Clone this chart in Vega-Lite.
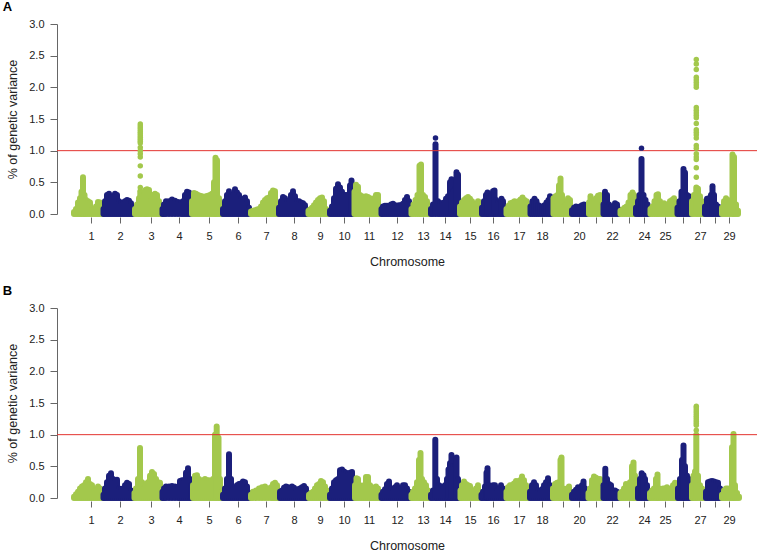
{
"$schema":"https://vega.github.io/schema/vega-lite/v6.json",
"background":"white",
"padding":{"left":2,"top":1,"right":0,"bottom":0},
"spacing":17,
"config":{"view":{"stroke":null},"font":"Liberation Sans",
"axis":{"grid":false,"labelFontSize":11,"labelColor":"#222","titleFontSize":12.5,"titleFontWeight":"normal","titleColor":"#222","tickColor":"#666","domainColor":"#666"},
"axisX":{"domain":false,"tickSize":6,"offset":3,"labelPadding":7,"labelOverlap":false,"labelFlush":false,"titlePadding":14},
"axisY":{"tickSize":7,"labelPadding":6,"titlePadding":9,"labelOverlap":false},
"title":{"fontSize":13,"fontWeight":"bold","anchor":"start","frame":"bounds","color":"#000"}},
"datasets":{
"envA":[
{"c":1,"p":73,"v":0.03},{"c":1,"p":75,"v":0.08},{"c":1,"p":77,"v":0.18},{"c":1,"p":79,"v":0.25},{"c":1,"p":80.5,"v":0.35},{"c":1,"p":82,"v":0.58},{"c":1,"p":83.5,"v":0.3},{"c":1,"p":85,"v":0.22},{"c":1,"p":87,"v":0.2},{"c":1,"p":89,"v":0.18},{"c":1,"p":91,"v":0.06},{"c":1,"p":93,"v":0.07},{"c":1,"p":95,"v":0.12},{"c":1,"p":97,"v":0.19},{"c":1,"p":99,"v":0.18},{"c":1,"p":101,"v":0.07},
{"c":2,"p":102.5,"v":0.08},{"c":2,"p":104,"v":0.2},{"c":2,"p":106,"v":0.3},{"c":2,"p":108,"v":0.32},{"c":2,"p":110,"v":0.26},{"c":2,"p":112,"v":0.28},{"c":2,"p":114,"v":0.32},{"c":2,"p":116,"v":0.3},{"c":2,"p":118,"v":0.2},{"c":2,"p":120,"v":0.17},{"c":2,"p":122,"v":0.18},{"c":2,"p":124,"v":0.2},{"c":2,"p":126,"v":0.22},{"c":2,"p":128,"v":0.21},{"c":2,"p":130,"v":0.17},{"c":2,"p":132,"v":0.1},
{"c":3,"p":134,"v":0.08},{"c":3,"p":136,"v":0.15},{"c":3,"p":138,"v":0.25},{"c":3,"p":139.3,"v":0.36},{"c":3,"p":141,"v":0.2},{"c":3,"p":143,"v":0.3},{"c":3,"p":144.5,"v":0.38},{"c":3,"p":146,"v":0.39},{"c":3,"p":148,"v":0.38},{"c":3,"p":150,"v":0.2},{"c":3,"p":152,"v":0.3},{"c":3,"p":154,"v":0.32},{"c":3,"p":156,"v":0.3},{"c":3,"p":158,"v":0.2},{"c":3,"p":160,"v":0.1},
{"c":4,"p":161.5,"v":0.08},{"c":4,"p":163,"v":0.15},{"c":4,"p":165,"v":0.2},{"c":4,"p":168,"v":0.2},{"c":4,"p":171,"v":0.23},{"c":4,"p":174,"v":0.21},{"c":4,"p":177,"v":0.19},{"c":4,"p":180,"v":0.18},{"c":4,"p":182,"v":0.2},{"c":4,"p":184,"v":0.3},{"c":4,"p":186,"v":0.35},{"c":4,"p":188,"v":0.34},{"c":4,"p":189.5,"v":0.1},
{"c":5,"p":191,"v":0.2},{"c":5,"p":193,"v":0.33},{"c":5,"p":195,"v":0.32},{"c":5,"p":197,"v":0.3},{"c":5,"p":199,"v":0.29},{"c":5,"p":201,"v":0.28},{"c":5,"p":203,"v":0.27},{"c":5,"p":205,"v":0.28},{"c":5,"p":207,"v":0.29},{"c":5,"p":209,"v":0.3},{"c":5,"p":211,"v":0.32},{"c":5,"p":213,"v":0.5},{"c":5,"p":214.5,"v":0.89},{"c":5,"p":216,"v":0.85},{"c":5,"p":218,"v":0.25},{"c":5,"p":220,"v":0.1},
{"c":6,"p":222,"v":0.08},{"c":6,"p":224,"v":0.2},{"c":6,"p":226,"v":0.3},{"c":6,"p":228,"v":0.36},{"c":6,"p":230,"v":0.28},{"c":6,"p":232,"v":0.3},{"c":6,"p":234,"v":0.39},{"c":6,"p":236,"v":0.34},{"c":6,"p":238,"v":0.3},{"c":6,"p":240,"v":0.24},{"c":6,"p":242,"v":0.22},{"c":6,"p":244,"v":0.26},{"c":6,"p":246,"v":0.2},{"c":6,"p":248,"v":0.1},
{"c":7,"p":250,"v":0.04},{"c":7,"p":252,"v":0.05},{"c":7,"p":254,"v":0.06},{"c":7,"p":256,"v":0.07},{"c":7,"p":258,"v":0.08},{"c":7,"p":260,"v":0.12},{"c":7,"p":262,"v":0.18},{"c":7,"p":264,"v":0.22},{"c":7,"p":266,"v":0.25},{"c":7,"p":268,"v":0.26},{"c":7,"p":270,"v":0.33},{"c":7,"p":272,"v":0.37},{"c":7,"p":274,"v":0.36},{"c":7,"p":276,"v":0.1},
{"c":8,"p":278,"v":0.1},{"c":8,"p":280,"v":0.2},{"c":8,"p":282,"v":0.27},{"c":8,"p":284,"v":0.25},{"c":8,"p":286,"v":0.2},{"c":8,"p":288,"v":0.2},{"c":8,"p":290,"v":0.3},{"c":8,"p":292,"v":0.36},{"c":8,"p":294,"v":0.28},{"c":8,"p":296,"v":0.2},{"c":8,"p":298,"v":0.2},{"c":8,"p":300,"v":0.18},{"c":8,"p":302,"v":0.17},{"c":8,"p":304,"v":0.14},{"c":8,"p":306,"v":0.06},
{"c":9,"p":307.5,"v":0.05},{"c":9,"p":309,"v":0.07},{"c":9,"p":311,"v":0.1},{"c":9,"p":313,"v":0.14},{"c":9,"p":315,"v":0.18},{"c":9,"p":317,"v":0.22},{"c":9,"p":319,"v":0.25},{"c":9,"p":321,"v":0.26},{"c":9,"p":323,"v":0.2},{"c":9,"p":325,"v":0.08},{"c":9,"p":327,"v":0.05},
{"c":10,"p":329,"v":0.05},{"c":10,"p":331,"v":0.12},{"c":10,"p":333,"v":0.25},{"c":10,"p":335,"v":0.4},{"c":10,"p":337,"v":0.47},{"c":10,"p":339,"v":0.42},{"c":10,"p":341,"v":0.35},{"c":10,"p":343,"v":0.3},{"c":10,"p":345,"v":0.3},{"c":10,"p":347,"v":0.3},{"c":10,"p":349,"v":0.45},{"c":10,"p":350.5,"v":0.53},{"c":10,"p":352,"v":0.3},
{"c":11,"p":353.5,"v":0.35},{"c":11,"p":355,"v":0.46},{"c":11,"p":357,"v":0.43},{"c":11,"p":359,"v":0.3},{"c":11,"p":361,"v":0.28},{"c":11,"p":363,"v":0.27},{"c":11,"p":365,"v":0.28},{"c":11,"p":367,"v":0.27},{"c":11,"p":369,"v":0.25},{"c":11,"p":371,"v":0.22},{"c":11,"p":373,"v":0.25},{"c":11,"p":375,"v":0.3},{"c":11,"p":377,"v":0.3},{"c":11,"p":379,"v":0.08},
{"c":12,"p":380.5,"v":0.08},{"c":12,"p":382,"v":0.12},{"c":12,"p":384,"v":0.13},{"c":12,"p":386,"v":0.13},{"c":12,"p":388,"v":0.12},{"c":12,"p":390,"v":0.15},{"c":12,"p":392,"v":0.16},{"c":12,"p":394,"v":0.14},{"c":12,"p":396,"v":0.13},{"c":12,"p":398,"v":0.14},{"c":12,"p":400,"v":0.14},{"c":12,"p":402,"v":0.16},{"c":12,"p":404,"v":0.22},{"c":12,"p":406,"v":0.27},{"c":12,"p":408,"v":0.2},{"c":12,"p":409.5,"v":0.08},
{"c":13,"p":410.5,"v":0.08},{"c":13,"p":412.5,"v":0.15},{"c":13,"p":414.5,"v":0.22},{"c":13,"p":416.5,"v":0.3},{"c":13,"p":418.5,"v":0.76},{"c":13,"p":420,"v":0.78},{"c":13,"p":422,"v":0.3},{"c":13,"p":424,"v":0.27},{"c":13,"p":426,"v":0.2},{"c":13,"p":428,"v":0.1},
{"c":14,"p":430,"v":0.08},{"c":14,"p":432,"v":0.15},{"c":14,"p":434.5,"v":1.1},{"c":14,"p":437,"v":0.2},{"c":14,"p":439,"v":0.17},{"c":14,"p":441,"v":0.17},{"c":14,"p":443,"v":0.18},{"c":14,"p":445,"v":0.24},{"c":14,"p":447,"v":0.28},{"c":14,"p":449,"v":0.5},{"c":14,"p":450.5,"v":0.55},{"c":14,"p":452,"v":0.35},{"c":14,"p":454,"v":0.4},{"c":14,"p":455.5,"v":0.66},{"c":14,"p":457,"v":0.62},
{"c":15,"p":459,"v":0.12},{"c":15,"p":461,"v":0.18},{"c":15,"p":463,"v":0.22},{"c":15,"p":465,"v":0.25},{"c":15,"p":467,"v":0.27},{"c":15,"p":469,"v":0.24},{"c":15,"p":471,"v":0.2},{"c":15,"p":473,"v":0.16},{"c":15,"p":475,"v":0.15},{"c":15,"p":477,"v":0.2},{"c":15,"p":479,"v":0.18},
{"c":16,"p":481,"v":0.1},{"c":16,"p":483,"v":0.2},{"c":16,"p":485,"v":0.3},{"c":16,"p":486.5,"v":0.34},{"c":16,"p":488,"v":0.25},{"c":16,"p":490,"v":0.28},{"c":16,"p":492,"v":0.36},{"c":16,"p":493.5,"v":0.37},{"c":16,"p":495,"v":0.22},{"c":16,"p":497,"v":0.18},{"c":16,"p":499,"v":0.2},{"c":16,"p":500.5,"v":0.24},{"c":16,"p":502,"v":0.2},{"c":16,"p":504,"v":0.08},
{"c":17,"p":505.5,"v":0.08},{"c":17,"p":507.5,"v":0.13},{"c":17,"p":509.5,"v":0.17},{"c":17,"p":511.5,"v":0.18},{"c":17,"p":513.5,"v":0.2},{"c":17,"p":515.5,"v":0.18},{"c":17,"p":517.5,"v":0.2},{"c":17,"p":519.5,"v":0.23},{"c":17,"p":521.5,"v":0.26},{"c":17,"p":523.5,"v":0.22},{"c":17,"p":525.5,"v":0.2},{"c":17,"p":527.5,"v":0.14},
{"c":18,"p":529.5,"v":0.12},{"c":18,"p":531.5,"v":0.2},{"c":18,"p":533.5,"v":0.24},{"c":18,"p":535.5,"v":0.2},{"c":18,"p":537.5,"v":0.14},{"c":18,"p":539.5,"v":0.12},{"c":18,"p":541.5,"v":0.12},{"c":18,"p":543.5,"v":0.14},{"c":18,"p":545.5,"v":0.18},{"c":18,"p":547.5,"v":0.22},{"c":18,"p":549,"v":0.28},{"c":18,"p":551,"v":0.15},
{"c":19,"p":552.5,"v":0.25},{"c":19,"p":554.5,"v":0.28},{"c":19,"p":556.5,"v":0.3},{"c":19,"p":558,"v":0.45},{"c":19,"p":559.5,"v":0.56},{"c":19,"p":561,"v":0.3},{"c":19,"p":563,"v":0.12},{"c":19,"p":565,"v":0.15},{"c":19,"p":567,"v":0.25},{"c":19,"p":569,"v":0.22},
{"c":20,"p":571,"v":0.06},{"c":20,"p":573,"v":0.1},{"c":20,"p":575,"v":0.12},{"c":20,"p":577,"v":0.1},{"c":20,"p":579,"v":0.12},{"c":20,"p":581,"v":0.14},{"c":20,"p":583,"v":0.15},{"c":20,"p":585,"v":0.12},{"c":20,"p":586.5,"v":0.05},
{"c":21,"p":588,"v":0.18},{"c":21,"p":589.5,"v":0.28},{"c":21,"p":591,"v":0.22},{"c":21,"p":593,"v":0.2},{"c":21,"p":595,"v":0.25},{"c":21,"p":597,"v":0.29},{"c":21,"p":599,"v":0.3},{"c":21,"p":601,"v":0.15},
{"c":22,"p":602.5,"v":0.15},{"c":22,"p":604,"v":0.35},{"c":22,"p":606,"v":0.3},{"c":22,"p":608,"v":0.15},{"c":22,"p":610,"v":0.12},{"c":22,"p":612,"v":0.12},{"c":22,"p":614,"v":0.17},{"c":22,"p":616,"v":0.15},{"c":22,"p":618,"v":0.07},
{"c":23,"p":619.5,"v":0.05},{"c":23,"p":621.5,"v":0.07},{"c":23,"p":623.5,"v":0.1},{"c":23,"p":625.5,"v":0.12},{"c":23,"p":627.5,"v":0.18},{"c":23,"p":629.5,"v":0.3},{"c":23,"p":631.5,"v":0.34},{"c":23,"p":633,"v":0.3},
{"c":24,"p":635,"v":0.1},{"c":24,"p":637,"v":0.2},{"c":24,"p":638.5,"v":0.3},{"c":24,"p":640.5,"v":0.87},{"c":24,"p":642.5,"v":0.3},{"c":24,"p":644.5,"v":0.22},{"c":24,"p":646.5,"v":0.15},{"c":24,"p":648,"v":0.08},
{"c":25,"p":649.5,"v":0.08},{"c":25,"p":651.5,"v":0.12},{"c":25,"p":653.5,"v":0.2},{"c":25,"p":655.5,"v":0.3},{"c":25,"p":657,"v":0.31},{"c":25,"p":659,"v":0.2},{"c":25,"p":661,"v":0.15},{"c":25,"p":663,"v":0.17},{"c":25,"p":665,"v":0.15},{"c":25,"p":667,"v":0.15},{"c":25,"p":669,"v":0.2},{"c":25,"p":671,"v":0.22},{"c":25,"p":673,"v":0.25},{"c":25,"p":675,"v":0.12},
{"c":26,"p":676.5,"v":0.1},{"c":26,"p":678.5,"v":0.2},{"c":26,"p":680.5,"v":0.35},{"c":26,"p":682.5,"v":0.71},{"c":26,"p":684,"v":0.65},{"c":26,"p":686,"v":0.3},{"c":26,"p":688,"v":0.28},{"c":26,"p":690,"v":0.15},
{"c":27,"p":691,"v":0.2},{"c":27,"p":693,"v":0.3},{"c":27,"p":695.3,"v":0.42},{"c":27,"p":697,"v":0.4},{"c":27,"p":699,"v":0.28},{"c":27,"p":701,"v":0.2},{"c":27,"p":702.5,"v":0.15},
{"c":28,"p":704,"v":0.12},{"c":28,"p":706,"v":0.24},{"c":28,"p":708,"v":0.25},{"c":28,"p":710,"v":0.3},{"c":28,"p":711.5,"v":0.44},{"c":28,"p":713,"v":0.3},{"c":28,"p":715,"v":0.15},{"c":28,"p":717,"v":0.12},{"c":28,"p":719,"v":0.1},
{"c":29,"p":721,"v":0.1},{"c":29,"p":723,"v":0.2},{"c":29,"p":725,"v":0.25},{"c":29,"p":727,"v":0.22},{"c":29,"p":729,"v":0.2},{"c":29,"p":731.5,"v":0.94},{"c":29,"p":733,"v":0.9},{"c":29,"p":735,"v":0.15},{"c":29,"p":737,"v":0.05}
],
"peakA":[
{"c":3,"p":139.3,"v":1.42},{"c":3,"p":139.3,"v":1.39},{"c":3,"p":139.3,"v":1.36},{"c":3,"p":139.3,"v":1.33},{"c":3,"p":139.3,"v":1.3},{"c":3,"p":139.3,"v":1.27},{"c":3,"p":139.3,"v":1.24},{"c":3,"p":139.3,"v":1.21},{"c":3,"p":139.3,"v":1.18},{"c":3,"p":139.3,"v":1.15},{"c":3,"p":139.3,"v":1.12},{"c":3,"p":139.3,"v":1.05},{"c":3,"p":139.3,"v":1.0},{"c":3,"p":139.3,"v":0.95},{"c":3,"p":139.3,"v":0.9},{"c":3,"p":139.3,"v":0.76},{"c":3,"p":139.3,"v":0.6},{"c":3,"p":139.3,"v":0.42},
{"c":14,"p":434.5,"v":1.2},
{"c":24,"p":640.5,"v":1.04},
{"c":27,"p":695.3,"v":2.44},{"c":27,"p":695.3,"v":2.37},{"c":27,"p":695.3,"v":2.28},{"c":27,"p":695.3,"v":2.16},{"c":27,"p":695.3,"v":2.12},{"c":27,"p":695.3,"v":2.08},{"c":27,"p":695.3,"v":2.04},{"c":27,"p":695.3,"v":2.0},{"c":27,"p":695.3,"v":1.68},{"c":27,"p":695.3,"v":1.64},{"c":27,"p":695.3,"v":1.6},{"c":27,"p":695.3,"v":1.56},{"c":27,"p":695.3,"v":1.52},{"c":27,"p":695.3,"v":1.43},{"c":27,"p":695.3,"v":1.33},{"c":27,"p":695.3,"v":1.29},{"c":27,"p":695.3,"v":1.25},{"c":27,"p":695.3,"v":1.2},{"c":27,"p":695.3,"v":1.08},{"c":27,"p":695.3,"v":1.04},{"c":27,"p":695.3,"v":0.95},{"c":27,"p":695.3,"v":0.9},{"c":27,"p":695.3,"v":0.86},{"c":27,"p":695.3,"v":0.73},{"c":27,"p":695.3,"v":0.58}
],
"envB":[
{"c":1,"p":73,"v":0.02},{"c":1,"p":75,"v":0.06},{"c":1,"p":77,"v":0.1},{"c":1,"p":79,"v":0.15},{"c":1,"p":81,"v":0.18},{"c":1,"p":83,"v":0.2},{"c":1,"p":85,"v":0.25},{"c":1,"p":87,"v":0.3},{"c":1,"p":89,"v":0.22},{"c":1,"p":91,"v":0.2},{"c":1,"p":93,"v":0.1},{"c":1,"p":95,"v":0.12},{"c":1,"p":97,"v":0.18},{"c":1,"p":99,"v":0.15},{"c":1,"p":101,"v":0.05},
{"c":2,"p":102.5,"v":0.05},{"c":2,"p":104,"v":0.15},{"c":2,"p":106,"v":0.25},{"c":2,"p":108,"v":0.35},{"c":2,"p":110,"v":0.39},{"c":2,"p":112,"v":0.3},{"c":2,"p":114,"v":0.28},{"c":2,"p":116,"v":0.29},{"c":2,"p":118,"v":0.15},{"c":2,"p":120,"v":0.14},{"c":2,"p":122,"v":0.15},{"c":2,"p":124,"v":0.2},{"c":2,"p":126,"v":0.24},{"c":2,"p":128,"v":0.22},{"c":2,"p":130,"v":0.12},{"c":2,"p":132,"v":0.08},
{"c":3,"p":133.5,"v":0.08},{"c":3,"p":135,"v":0.15},{"c":3,"p":137,"v":0.3},{"c":3,"p":139,"v":0.79},{"c":3,"p":141,"v":0.25},{"c":3,"p":143,"v":0.15},{"c":3,"p":145,"v":0.22},{"c":3,"p":147,"v":0.25},{"c":3,"p":149,"v":0.35},{"c":3,"p":151,"v":0.41},{"c":3,"p":153,"v":0.38},{"c":3,"p":155,"v":0.3},{"c":3,"p":157,"v":0.25},{"c":3,"p":159,"v":0.24},{"c":3,"p":160.5,"v":0.12},
{"c":4,"p":161.5,"v":0.1},{"c":4,"p":163,"v":0.15},{"c":4,"p":165,"v":0.18},{"c":4,"p":168,"v":0.18},{"c":4,"p":171,"v":0.19},{"c":4,"p":174,"v":0.18},{"c":4,"p":177,"v":0.17},{"c":4,"p":179,"v":0.27},{"c":4,"p":181,"v":0.28},{"c":4,"p":183,"v":0.28},{"c":4,"p":185,"v":0.4},{"c":4,"p":187,"v":0.47},{"c":4,"p":189,"v":0.3},{"c":4,"p":190.5,"v":0.2},
{"c":5,"p":192,"v":0.2},{"c":5,"p":194,"v":0.35},{"c":5,"p":196,"v":0.36},{"c":5,"p":198,"v":0.3},{"c":5,"p":200,"v":0.25},{"c":5,"p":202,"v":0.28},{"c":5,"p":204,"v":0.3},{"c":5,"p":206,"v":0.28},{"c":5,"p":208,"v":0.28},{"c":5,"p":210,"v":0.27},{"c":5,"p":212,"v":0.3},{"c":5,"p":214,"v":1.0},{"c":5,"p":215.7,"v":1.13},{"c":5,"p":217.5,"v":0.95},{"c":5,"p":219,"v":0.3},{"c":5,"p":220.5,"v":0.1},
{"c":6,"p":222,"v":0.05},{"c":6,"p":224,"v":0.15},{"c":6,"p":226,"v":0.3},{"c":6,"p":228,"v":0.69},{"c":6,"p":230,"v":0.3},{"c":6,"p":232,"v":0.15},{"c":6,"p":234,"v":0.17},{"c":6,"p":236,"v":0.2},{"c":6,"p":238,"v":0.22},{"c":6,"p":240,"v":0.23},{"c":6,"p":242,"v":0.26},{"c":6,"p":244,"v":0.25},{"c":6,"p":246,"v":0.18},{"c":6,"p":248,"v":0.08},
{"c":7,"p":250,"v":0.05},{"c":7,"p":252,"v":0.1},{"c":7,"p":255,"v":0.12},{"c":7,"p":258,"v":0.15},{"c":7,"p":261,"v":0.17},{"c":7,"p":264,"v":0.18},{"c":7,"p":267,"v":0.15},{"c":7,"p":270,"v":0.17},{"c":7,"p":272,"v":0.22},{"c":7,"p":274,"v":0.24},{"c":7,"p":276,"v":0.2},{"c":7,"p":277.5,"v":0.1},
{"c":8,"p":279,"v":0.1},{"c":8,"p":281,"v":0.12},{"c":8,"p":283,"v":0.16},{"c":8,"p":285,"v":0.18},{"c":8,"p":287,"v":0.17},{"c":8,"p":289,"v":0.15},{"c":8,"p":291,"v":0.18},{"c":8,"p":293,"v":0.16},{"c":8,"p":295,"v":0.12},{"c":8,"p":297,"v":0.14},{"c":8,"p":299,"v":0.15},{"c":8,"p":301,"v":0.17},{"c":8,"p":303,"v":0.19},{"c":8,"p":305,"v":0.15},{"c":8,"p":306.5,"v":0.08},
{"c":9,"p":308,"v":0.05},{"c":9,"p":310,"v":0.08},{"c":9,"p":312,"v":0.1},{"c":9,"p":314,"v":0.15},{"c":9,"p":316,"v":0.2},{"c":9,"p":318,"v":0.22},{"c":9,"p":320,"v":0.27},{"c":9,"p":322,"v":0.25},{"c":9,"p":324,"v":0.18},{"c":9,"p":326,"v":0.12},{"c":9,"p":327.5,"v":0.06},
{"c":10,"p":329,"v":0.05},{"c":10,"p":331,"v":0.15},{"c":10,"p":333,"v":0.25},{"c":10,"p":335,"v":0.28},{"c":10,"p":337,"v":0.3},{"c":10,"p":339,"v":0.44},{"c":10,"p":341,"v":0.45},{"c":10,"p":343,"v":0.42},{"c":10,"p":345,"v":0.4},{"c":10,"p":347,"v":0.38},{"c":10,"p":349,"v":0.4},{"c":10,"p":351,"v":0.41},{"c":10,"p":353,"v":0.3},
{"c":11,"p":354,"v":0.2},{"c":11,"p":355.5,"v":0.31},{"c":11,"p":357,"v":0.3},{"c":11,"p":359,"v":0.2},{"c":11,"p":361,"v":0.18},{"c":11,"p":363,"v":0.2},{"c":11,"p":365,"v":0.33},{"c":11,"p":367,"v":0.33},{"c":11,"p":369,"v":0.2},{"c":11,"p":371,"v":0.17},{"c":11,"p":373,"v":0.15},{"c":11,"p":375,"v":0.18},{"c":11,"p":377,"v":0.15},{"c":11,"p":379,"v":0.08},
{"c":12,"p":380.5,"v":0.05},{"c":12,"p":382,"v":0.1},{"c":12,"p":384,"v":0.14},{"c":12,"p":386,"v":0.22},{"c":12,"p":388,"v":0.26},{"c":12,"p":390,"v":0.15},{"c":12,"p":392,"v":0.12},{"c":12,"p":394,"v":0.17},{"c":12,"p":396,"v":0.2},{"c":12,"p":398,"v":0.15},{"c":12,"p":400,"v":0.15},{"c":12,"p":402,"v":0.2},{"c":12,"p":404,"v":0.2},{"c":12,"p":406,"v":0.15},{"c":12,"p":408,"v":0.1},{"c":12,"p":409.5,"v":0.05},
{"c":13,"p":410.5,"v":0.05},{"c":13,"p":412,"v":0.1},{"c":13,"p":414,"v":0.15},{"c":13,"p":416,"v":0.25},{"c":13,"p":418,"v":0.6},{"c":13,"p":419.5,"v":0.71},{"c":13,"p":421,"v":0.3},{"c":13,"p":423,"v":0.25},{"c":13,"p":425,"v":0.2},{"c":13,"p":427,"v":0.12},{"c":13,"p":428.5,"v":0.06},
{"c":14,"p":430,"v":0.05},{"c":14,"p":432,"v":0.12},{"c":14,"p":434.3,"v":0.92},{"c":14,"p":436,"v":0.3},{"c":14,"p":438,"v":0.2},{"c":14,"p":440,"v":0.18},{"c":14,"p":442,"v":0.15},{"c":14,"p":444,"v":0.2},{"c":14,"p":446,"v":0.3},{"c":14,"p":447.5,"v":0.45},{"c":14,"p":449,"v":0.55},{"c":14,"p":450.5,"v":0.68},{"c":14,"p":452,"v":0.5},{"c":14,"p":454,"v":0.5},{"c":14,"p":455.5,"v":0.64},{"c":14,"p":457,"v":0.3},{"c":14,"p":458.5,"v":0.1},
{"c":15,"p":459.5,"v":0.12},{"c":15,"p":461,"v":0.2},{"c":15,"p":463,"v":0.26},{"c":15,"p":465,"v":0.22},{"c":15,"p":467,"v":0.2},{"c":15,"p":469,"v":0.19},{"c":15,"p":471,"v":0.12},{"c":15,"p":473,"v":0.1},{"c":15,"p":475,"v":0.15},{"c":15,"p":477,"v":0.2},{"c":15,"p":479,"v":0.1},
{"c":16,"p":480.5,"v":0.05},{"c":16,"p":482,"v":0.1},{"c":16,"p":484,"v":0.18},{"c":16,"p":485.5,"v":0.4},{"c":16,"p":486.5,"v":0.47},{"c":16,"p":488,"v":0.2},{"c":16,"p":490,"v":0.15},{"c":16,"p":492,"v":0.2},{"c":16,"p":494,"v":0.2},{"c":16,"p":496,"v":0.12},{"c":16,"p":498,"v":0.15},{"c":16,"p":500,"v":0.2},{"c":16,"p":502,"v":0.15},{"c":16,"p":504,"v":0.05},
{"c":17,"p":505.5,"v":0.1},{"c":17,"p":507,"v":0.17},{"c":17,"p":509,"v":0.2},{"c":17,"p":511,"v":0.2},{"c":17,"p":513,"v":0.23},{"c":17,"p":515,"v":0.27},{"c":17,"p":517,"v":0.26},{"c":17,"p":519,"v":0.28},{"c":17,"p":521,"v":0.34},{"c":17,"p":523,"v":0.28},{"c":17,"p":525,"v":0.2},{"c":17,"p":527,"v":0.12},
{"c":18,"p":529,"v":0.1},{"c":18,"p":531,"v":0.2},{"c":18,"p":533,"v":0.25},{"c":18,"p":535,"v":0.2},{"c":18,"p":537,"v":0.12},{"c":18,"p":539,"v":0.1},{"c":18,"p":541,"v":0.14},{"c":18,"p":543,"v":0.2},{"c":18,"p":545,"v":0.25},{"c":18,"p":547,"v":0.31},{"c":18,"p":549,"v":0.2},{"c":18,"p":551,"v":0.1},
{"c":19,"p":552,"v":0.15},{"c":19,"p":554,"v":0.22},{"c":19,"p":556,"v":0.24},{"c":19,"p":558,"v":0.25},{"c":19,"p":559.5,"v":0.6},{"c":19,"p":560.5,"v":0.64},{"c":19,"p":562,"v":0.15},{"c":19,"p":564,"v":0.1},{"c":19,"p":566,"v":0.15},{"c":19,"p":568,"v":0.18},{"c":19,"p":569.5,"v":0.08},
{"c":20,"p":571,"v":0.05},{"c":20,"p":573,"v":0.1},{"c":20,"p":575,"v":0.13},{"c":20,"p":577,"v":0.17},{"c":20,"p":579,"v":0.16},{"c":20,"p":581,"v":0.2},{"c":20,"p":582.5,"v":0.26},{"c":20,"p":584,"v":0.15},{"c":20,"p":586,"v":0.05},
{"c":21,"p":587.5,"v":0.08},{"c":21,"p":589,"v":0.15},{"c":21,"p":591,"v":0.28},{"c":21,"p":593,"v":0.34},{"c":21,"p":595,"v":0.32},{"c":21,"p":597,"v":0.3},{"c":21,"p":599,"v":0.3},{"c":21,"p":601,"v":0.1},
{"c":22,"p":602.5,"v":0.2},{"c":22,"p":604.3,"v":0.46},{"c":22,"p":606,"v":0.3},{"c":22,"p":608,"v":0.22},{"c":22,"p":610,"v":0.2},{"c":22,"p":612,"v":0.12},{"c":22,"p":614,"v":0.12},{"c":22,"p":616,"v":0.1},{"c":22,"p":618,"v":0.05},
{"c":23,"p":619.5,"v":0.08},{"c":23,"p":621,"v":0.1},{"c":23,"p":623,"v":0.15},{"c":23,"p":625,"v":0.22},{"c":23,"p":627,"v":0.18},{"c":23,"p":629,"v":0.25},{"c":23,"p":631,"v":0.5},{"c":23,"p":632.5,"v":0.56},{"c":23,"p":634,"v":0.35},{"c":23,"p":635.5,"v":0.2},
{"c":24,"p":637,"v":0.15},{"c":24,"p":639,"v":0.3},{"c":24,"p":640.7,"v":0.39},{"c":24,"p":642.5,"v":0.36},{"c":24,"p":644,"v":0.3},{"c":24,"p":646,"v":0.2},{"c":24,"p":647.5,"v":0.05},
{"c":25,"p":649,"v":0.08},{"c":25,"p":651,"v":0.12},{"c":25,"p":653,"v":0.15},{"c":25,"p":655,"v":0.3},{"c":25,"p":656.5,"v":0.37},{"c":25,"p":658,"v":0.15},{"c":25,"p":660,"v":0.14},{"c":25,"p":662,"v":0.15},{"c":25,"p":664,"v":0.15},{"c":25,"p":666,"v":0.17},{"c":25,"p":668,"v":0.14},{"c":25,"p":670,"v":0.15},{"c":25,"p":672,"v":0.2},{"c":25,"p":674,"v":0.24},{"c":25,"p":676,"v":0.12},
{"c":26,"p":677,"v":0.15},{"c":26,"p":679,"v":0.3},{"c":26,"p":681,"v":0.6},{"c":26,"p":682.5,"v":0.83},{"c":26,"p":684,"v":0.5},{"c":26,"p":686,"v":0.35},{"c":26,"p":688,"v":0.3},{"c":26,"p":690,"v":0.15},
{"c":27,"p":691,"v":0.2},{"c":27,"p":692.5,"v":0.35},{"c":27,"p":694,"v":0.42},{"c":27,"p":695.3,"v":1.0},{"c":27,"p":697,"v":0.35},{"c":27,"p":699,"v":0.2},{"c":27,"p":701,"v":0.15},{"c":27,"p":703,"v":0.1},
{"c":28,"p":705,"v":0.1},{"c":28,"p":707,"v":0.25},{"c":28,"p":709,"v":0.26},{"c":28,"p":711,"v":0.27},{"c":28,"p":713,"v":0.26},{"c":28,"p":715,"v":0.25},{"c":28,"p":717,"v":0.24},{"c":28,"p":719,"v":0.15},
{"c":29,"p":721,"v":0.05},{"c":29,"p":723,"v":0.12},{"c":29,"p":725,"v":0.15},{"c":29,"p":727,"v":0.15},{"c":29,"p":729,"v":0.12},{"c":29,"p":731,"v":0.8},{"c":29,"p":732.5,"v":1.01},{"c":29,"p":734,"v":0.2},{"c":29,"p":736,"v":0.08},{"c":29,"p":738,"v":0.02}
],
"peakB":[
{"c":27,"p":695.3,"v":1.45},{"c":27,"p":695.3,"v":1.42},{"c":27,"p":695.3,"v":1.39},{"c":27,"p":695.3,"v":1.36},{"c":27,"p":695.3,"v":1.33},{"c":27,"p":695.3,"v":1.3},{"c":27,"p":695.3,"v":1.27},{"c":27,"p":695.3,"v":1.24},{"c":27,"p":695.3,"v":1.21},{"c":27,"p":695.3,"v":1.18},{"c":27,"p":695.3,"v":1.15},{"c":27,"p":695.3,"v":1.07}
],
"threshold":[{"v":1}]
},
"vconcat":[
{"title":{"text":"A","dx":-4,"offset":4},
"width":700,"height":190,
"layer":[
{"data":{"name":"envA"},"mark":{"type":"rule","strokeWidth":6,"strokeCap":"round"},
"encoding":{
"x":{"field":"p","type":"quantitative","scale":{"domain":[56,756],"nice":false,"zero":false},
"axis":{"title":"Chromosome","values":[90,119,150,178,208,237,265,293,319,343,368,396,422,444,469,492,518,541,562,578,595,611,628,643,664,682,699,714,728],
"labelExpr":"['1','2','3','4','5','6','7','8','9','10','11','12','13','14','15','16','17','18','','20','','22','','24','25','','27','','29'][indexof([90,119,150,178,208,237,265,293,319,343,368,396,422,444,469,492,518,541,562,578,595,611,628,643,664,682,699,714,728], datum.value)]"}},
"y":{"field":"v","type":"quantitative","scale":{"domain":[0,3],"nice":false},
"axis":{"title":"% of genetic variance","values":[0,0.5,1,1.5,2,2.5,3],"format":".1f"}},
"y2":{"datum":0},
"color":{"field":"c","type":"nominal","legend":null,"scale":{"domain":[1,2,3,4,5,6,7,8,9,10,11,12,13,14,15,16,17,18,19,20,21,22,23,24,25,26,27,28,29],"range":["#a3c84c","#1b1f7b","#a3c84c","#1b1f7b","#a3c84c","#1b1f7b","#a3c84c","#1b1f7b","#a3c84c","#1b1f7b","#a3c84c","#1b1f7b","#a3c84c","#1b1f7b","#a3c84c","#1b1f7b","#a3c84c","#1b1f7b","#a3c84c","#1b1f7b","#a3c84c","#1b1f7b","#a3c84c","#1b1f7b","#a3c84c","#1b1f7b","#a3c84c","#1b1f7b","#a3c84c"]}}}},
{"data":{"name":"threshold"},"mark":{"type":"rule","color":"#e3342f","strokeWidth":1},
"encoding":{"y":{"field":"v","type":"quantitative","axis":{"title":"% of genetic variance","values":[0,0.5,1,1.5,2,2.5,3],"format":".1f"}}}},
{"data":{"name":"peakA"},"mark":{"type":"circle","size":30,"opacity":1},
"encoding":{
"x":{"field":"p","type":"quantitative","axis":{"title":"Chromosome","values":[90,119,150,178,208,237,265,293,319,343,368,396,422,444,469,492,518,541,562,578,595,611,628,643,664,682,699,714,728],
"labelExpr":"['1','2','3','4','5','6','7','8','9','10','11','12','13','14','15','16','17','18','','20','','22','','24','25','','27','','29'][indexof([90,119,150,178,208,237,265,293,319,343,368,396,422,444,469,492,518,541,562,578,595,611,628,643,664,682,699,714,728], datum.value)]"}},
"y":{"field":"v","type":"quantitative","axis":{"title":"% of genetic variance","values":[0,0.5,1,1.5,2,2.5,3],"format":".1f"}},
"color":{"field":"c","type":"nominal","legend":null}}}
]},
{"title":{"text":"B","dx":-4,"offset":4},
"width":700,"height":190,
"layer":[
{"data":{"name":"envB"},"mark":{"type":"rule","strokeWidth":6,"strokeCap":"round"},
"encoding":{
"x":{"field":"p","type":"quantitative","scale":{"domain":[56,756],"nice":false,"zero":false},
"axis":{"title":"Chromosome","values":[90,119,150,178,208,237,265,293,319,343,368,396,422,444,469,492,518,541,562,578,595,611,628,643,664,682,699,714,728],
"labelExpr":"['1','2','3','4','5','6','7','8','9','10','11','12','13','14','15','16','17','18','','20','','22','','24','25','','27','','29'][indexof([90,119,150,178,208,237,265,293,319,343,368,396,422,444,469,492,518,541,562,578,595,611,628,643,664,682,699,714,728], datum.value)]"}},
"y":{"field":"v","type":"quantitative","scale":{"domain":[0,3],"nice":false},
"axis":{"title":"% of genetic variance","values":[0,0.5,1,1.5,2,2.5,3],"format":".1f"}},
"y2":{"datum":0},
"color":{"field":"c","type":"nominal","legend":null,"scale":{"domain":[1,2,3,4,5,6,7,8,9,10,11,12,13,14,15,16,17,18,19,20,21,22,23,24,25,26,27,28,29],"range":["#a3c84c","#1b1f7b","#a3c84c","#1b1f7b","#a3c84c","#1b1f7b","#a3c84c","#1b1f7b","#a3c84c","#1b1f7b","#a3c84c","#1b1f7b","#a3c84c","#1b1f7b","#a3c84c","#1b1f7b","#a3c84c","#1b1f7b","#a3c84c","#1b1f7b","#a3c84c","#1b1f7b","#a3c84c","#1b1f7b","#a3c84c","#1b1f7b","#a3c84c","#1b1f7b","#a3c84c"]}}}},
{"data":{"name":"threshold"},"mark":{"type":"rule","color":"#e3342f","strokeWidth":1},
"encoding":{"y":{"field":"v","type":"quantitative","axis":{"title":"% of genetic variance","values":[0,0.5,1,1.5,2,2.5,3],"format":".1f"}}}},
{"data":{"name":"peakB"},"mark":{"type":"circle","size":30,"opacity":1},
"encoding":{
"x":{"field":"p","type":"quantitative","axis":{"title":"Chromosome","values":[90,119,150,178,208,237,265,293,319,343,368,396,422,444,469,492,518,541,562,578,595,611,628,643,664,682,699,714,728],
"labelExpr":"['1','2','3','4','5','6','7','8','9','10','11','12','13','14','15','16','17','18','','20','','22','','24','25','','27','','29'][indexof([90,119,150,178,208,237,265,293,319,343,368,396,422,444,469,492,518,541,562,578,595,611,628,643,664,682,699,714,728], datum.value)]"}},
"y":{"field":"v","type":"quantitative","axis":{"title":"% of genetic variance","values":[0,0.5,1,1.5,2,2.5,3],"format":".1f"}},
"color":{"field":"c","type":"nominal","legend":null}}}
]}
]
}
